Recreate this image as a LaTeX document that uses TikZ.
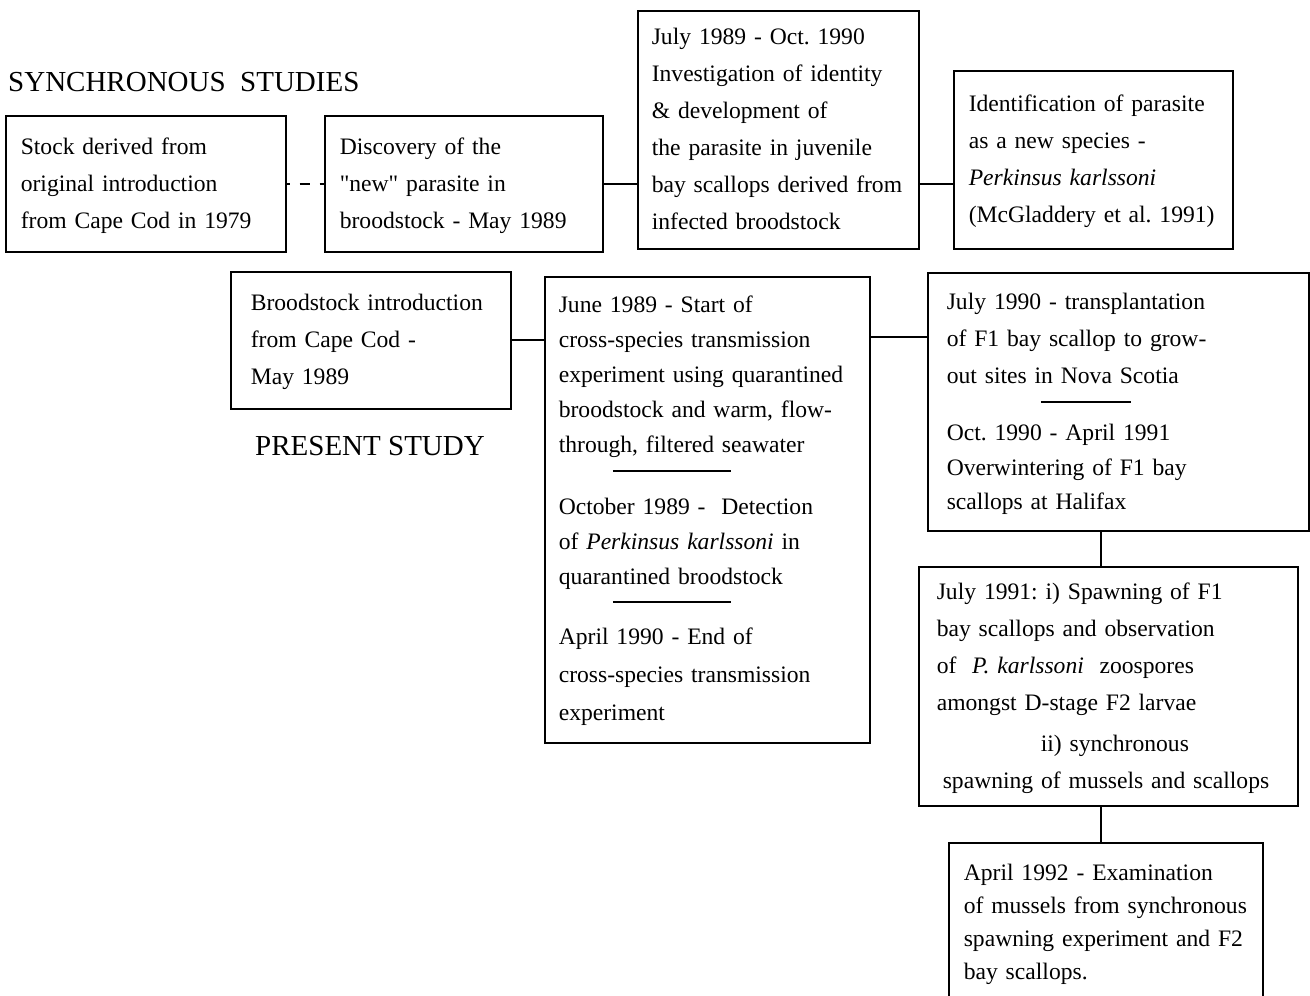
\documentclass[tikz,border=0pt]{standalone}
\usepackage{fontspec}
\setmainfont{Liberation Serif}
\usetikzlibrary{positioning,calc}
\newcommand{\lines}[1]{\begin{tabular}{@{}l@{}}#1\end{tabular}}
\newcommand{\seprule}[2]{\hspace*{#1}\rule{#2}{1.8pt}}
\frenchspacing

\begin{document}
\begin{tikzpicture}[
    x=1pt, y=-1pt,
    box/.style={draw, line width=1.6pt, anchor=north west, align=left, inner ysep=0pt, font=\fontsize{23.6}{37}\selectfont},
    link/.style={line width=1.8pt},
    heading/.style={anchor=west, inner sep=0pt, font=\fontsize{29}{32}\selectfont}
  ]
  \useasboundingbox (0,0) rectangle (1310,996);

  % synchronous studies
  \node[heading] (synch) at (8,82) {SYNCHRONOUS\ \ STUDIES};
  \node[box, text width=250pt, inner xsep=15pt, minimum height=136pt] (stock) at (5,115)
    {\lines{Stock derived from\\original introduction\\from Cape Cod in 1979}};
  \node[box, text width=248pt, inner xsep=15pt, minimum height=136pt] (disc) at (324,115)
    {\lines{Discovery of the\\\textquotedbl new\textquotedbl{} parasite in\\broodstock - May 1989}};
  \node[box, text width=253pt, inner xsep=14pt, minimum height=238pt] (ident) at (637,10)
    {\lines{July 1989 - Oct. 1990\\Investigation of identity\\\& development of\\the parasite in juvenile\\bay scallops derived from\\infected broodstock}};
  \node[box, text width=249pt, inner xsep=15pt, minimum height=178pt] (species) at (953,70)
    {\lines{Identification of parasite\\as a new species -\\\textit{Perkinsus karlssoni}\\(McGladdery et al. 1991)}};

  % present study
  \node[box, text width=240pt, inner xsep=20pt, minimum height=137pt] (brood) at (230,271)
    {\lines{Broodstock introduction\\from Cape Cod -\\May 1989}};
  \node[heading] (present) at (255,446) {PRESENT STUDY};
  \node[box, text width=297pt, inner xsep=14pt, minimum height=466pt, font=\fontsize{23.6}{35}\selectfont] (trial) at (544,276)
    {\lines{June 1989 - Start of\\cross-species transmission\\experiment using quarantined\\broodstock and warm, flow-\\through, filtered seawater\\[-16pt]
     \seprule{54pt}{118pt}\\[8pt]
     October 1989 - \ Detection\\of \textit{Perkinsus karlssoni} in\\quarantined broodstock\\[-17pt]
     \seprule{54pt}{118pt}\\[7pt]
     April 1990 - End of\\[3pt]cross-species transmission\\[3pt]experiment}};
  \node[box, text width=343pt, inner xsep=19pt, minimum height=258pt, font=\fontsize{23.6}{37}\selectfont] (grow) at (927,272)
    {\lines{July 1990 - transplantation\\of F1 bay scallop to grow-\\out sites in Nova Scotia\\[-17pt]
     \seprule{94pt}{90pt}\\[0pt]
     Oct. 1990 - April 1991\\[-2pt]Overwintering of F1 bay\\[-3pt]scallops at Halifax}};
  \node[box, text width=343pt, inner xsep=18pt, minimum height=239pt] (spawn) at (918,566)
    {\lines{July 1991: i) Spawning of F1\\bay scallops and observation\\of \ \textit{P. karlssoni} \ zoospores\\amongst D-stage F2 larvae\\[4pt]\hspace*{104pt}ii) synchronous\\\hspace*{6pt}spawning of mussels and scallops}};
  \node[box, text width=284pt, inner xsep=15pt, minimum height=161pt, font=\fontsize{23.6}{33}\selectfont] (exam) at (948,842)
    {\lines{April 1992 - Examination\\of mussels from synchronous\\spawning experiment and F2\\bay scallops.}};

  \coordinate (drop) at (1101,0);

  % connectors
  \draw[link, dash pattern=on 10pt off 10pt, dash phase=7pt] (stock.east) -- (disc.west);
  \draw[link] (disc.east) -- (disc.east -| ident.west);
  \draw[link] (disc.east -| ident.east) -- (disc.east -| species.west);
  \draw[link] (brood.east) -- (brood.east -| trial.west);
  \draw[link] ([yshift=-61pt]trial.north east) -- ([yshift=-61pt]trial.north east -| grow.west);
  \draw[link] (grow.south -| drop) -- (spawn.north -| drop);
  \draw[link] (spawn.south -| drop) -- (exam.north -| drop);

\end{tikzpicture}
\end{document}
